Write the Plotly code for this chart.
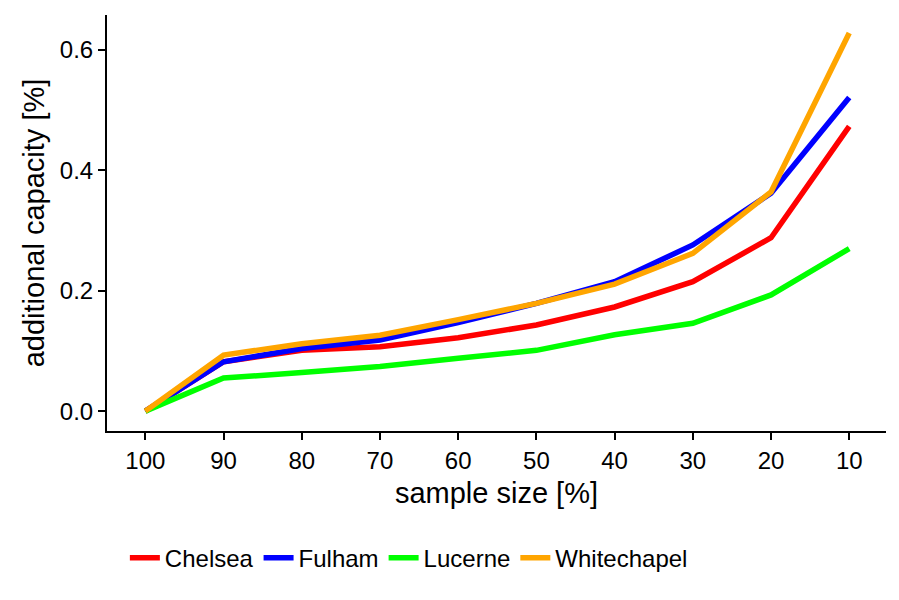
import plotly.graph_objects as go

sample_size = [100, 90, 80, 70, 60, 50, 40, 30, 20, 10]
chelsea = [0.0, 0.082, 0.101, 0.107, 0.122, 0.143, 0.173, 0.215, 0.288, 0.473]
fulham = [0.0, 0.082, 0.104, 0.118, 0.147, 0.179, 0.215, 0.276, 0.362, 0.521]
lucerne = [0.0, 0.055, 0.064, 0.074, 0.088, 0.101, 0.127, 0.146, 0.193, 0.270]
whitechapel = [0.0, 0.093, 0.112, 0.126, 0.152, 0.179, 0.211, 0.262, 0.364, 0.628]
y_ticks = [0.0, 0.2, 0.4, 0.6]

series = [
    ("Chelsea", chelsea, "#ff0000"),
    ("Fulham", fulham, "#0000ff"),
    ("Lucerne", lucerne, "#00ff00"),
    ("Whitechapel", whitechapel, "#ffa500"),
]

fig = go.Figure()
for name, vals, col in series:
    fig.add_trace(go.Scatter(x=sample_size, y=vals, mode="lines", name=name,
                             line=dict(color=col, width=5.5)))

font = "Liberation Sans, Arial, sans-serif"
fig.update_layout(
    width=899, height=600,
    margin=dict(l=99, r=21, t=7, b=177),
    paper_bgcolor="white", plot_bgcolor="white",
    font=dict(family=font, color="black", size=24),
    showlegend=True,
    legend=dict(orientation="h", xref="container", yref="container",
                x=0.13, y=0.083, xanchor="left", yanchor="middle",
                font=dict(size=24), itemwidth=30, tracegroupgap=0),
    xaxis=dict(range=[104.9, 5.3], tickvals=sample_size,
               ticktext=[str(v) for v in sample_size],
               showline=True, linecolor="black", linewidth=2,
               ticks="outside", ticklen=7, tickwidth=2, tickcolor="black",
               showgrid=False, zeroline=False,
               tickfont=dict(size=24),
               title=dict(text="sample size [%]", font=dict(size=29), standoff=10)),
    yaxis=dict(range=[-0.033, 0.658], tickvals=y_ticks,
               ticktext=["%.1f" % v for v in y_ticks],
               showline=True, linecolor="black", linewidth=2,
               ticks="outside", ticklen=7, tickwidth=2, tickcolor="black",
               showgrid=False, zeroline=False,
               tickfont=dict(size=24),
               title=dict(text="additional capacity [%]", font=dict(size=29), standoff=7)),
)

fig.write_html("out.html")
